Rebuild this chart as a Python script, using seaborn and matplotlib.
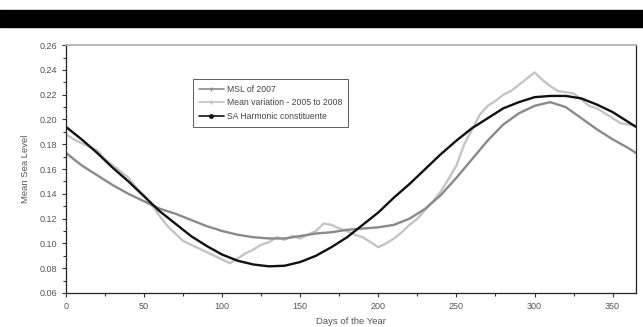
import pandas as pd
import matplotlib
matplotlib.use("Agg")
import matplotlib.pyplot as plt
import seaborn as sns
from matplotlib.lines import Line2D
from matplotlib.patches import Rectangle
from matplotlib.ticker import MultipleLocator

# ------ DATA ------ #
days_smooth = [0, 10, 20, 30, 40, 50, 60, 70, 80, 90, 100, 110, 120, 130, 140,
               150, 160, 170, 180, 190, 200, 210, 220, 230, 240, 250, 260, 270,
               280, 290, 300, 310, 320, 330, 340, 350, 360, 365]

msl_2007 = [0.173, 0.163, 0.155, 0.147, 0.140, 0.134, 0.128, 0.124, 0.119, 0.114,
            0.110, 0.107, 0.105, 0.104, 0.104, 0.106, 0.108, 0.109, 0.111, 0.112,
            0.113, 0.115, 0.120, 0.128, 0.139, 0.153, 0.168, 0.183, 0.196, 0.205,
            0.211, 0.214, 0.210, 0.201, 0.192, 0.184, 0.177, 0.173]

sa_harmonic = [0.194, 0.184, 0.173, 0.161, 0.150, 0.138, 0.126, 0.116, 0.106, 0.098,
               0.091, 0.086, 0.083, 0.0815, 0.082, 0.085, 0.090, 0.097, 0.105, 0.115,
               0.125, 0.137, 0.148, 0.160, 0.172, 0.183, 0.193, 0.201, 0.209, 0.214,
               0.218, 0.219, 0.219, 0.217, 0.212, 0.206, 0.198, 0.194]

days_mean = [0, 5, 10, 15, 20, 25, 30, 35, 40, 45, 50, 55, 60, 65, 70, 75, 80, 85,
             90, 95, 100, 105, 110, 115, 120, 125, 130, 135, 140, 145, 150, 155,
             160, 165, 170, 175, 180, 185, 190, 195, 200, 205, 210, 215, 220, 225,
             230, 235, 240, 245, 250, 255, 260, 265, 270, 275, 280, 285, 290, 295,
             300, 305, 310, 315, 320, 325, 330, 335, 340, 345, 350, 355, 360, 365]

mean_variation = [0.188, 0.184, 0.181, 0.178, 0.175, 0.168, 0.163, 0.158, 0.153, 0.145,
                  0.139, 0.131, 0.122, 0.114, 0.108, 0.102, 0.099, 0.096, 0.093, 0.090,
                  0.087, 0.084, 0.088, 0.092, 0.095, 0.099, 0.101, 0.105, 0.103, 0.106,
                  0.104, 0.107, 0.110, 0.116, 0.115, 0.112, 0.110, 0.107, 0.105, 0.101,
                  0.097, 0.100, 0.104, 0.109, 0.115, 0.120, 0.127, 0.134, 0.142, 0.152,
                  0.163, 0.180, 0.192, 0.204, 0.211, 0.215, 0.220, 0.223, 0.228, 0.233,
                  0.238, 0.232, 0.227, 0.223, 0.222, 0.221, 0.216, 0.211, 0.209, 0.205,
                  0.201, 0.197, 0.196, 0.195]

labels = ["MSL of 2007", "Mean variation - 2005 to 2008", "SA Harmonic constituente"]
colors = ["#8a8a8a", "#c4c4c4", "#111111"]

smooth_df = pd.DataFrame({"day": days_smooth, "msl": msl_2007, "sa": sa_harmonic})
mean_df = pd.DataFrame({"day": days_mean, "mean": mean_variation})

# ------ PLOT ------ #
sns.set_style("ticks")
plt.rcParams["font.family"] = ["Liberation Sans", "DejaVu Sans"]

fig = plt.figure(figsize=(6.43, 3.27), dpi=100)
ax = fig.add_axes([0.1026, 0.104, 0.8866, 0.758])

# black band across the top
fig.patches.append(Rectangle((0, 0.917), 1, 0.053, transform=fig.transFigure,
                             color="black", zorder=0))

sns.lineplot(data=mean_df, x="day", y="mean", ax=ax, color=colors[1], lw=1.7)
sns.lineplot(data=smooth_df, x="day", y="msl", ax=ax, color=colors[0], lw=1.7)
sns.lineplot(data=smooth_df, x="day", y="sa", ax=ax, color=colors[2], lw=1.7)

ax.set_xlim(0, 365)
ax.set_ylim(0.06, 0.26)
ax.xaxis.set_major_locator(MultipleLocator(50))
ax.xaxis.set_minor_locator(MultipleLocator(25))
ax.yaxis.set_major_locator(MultipleLocator(0.02))
ax.yaxis.set_minor_locator(MultipleLocator(0.01))
ax.yaxis.set_major_formatter(matplotlib.ticker.FormatStrFormatter("%.2f"))
ax.tick_params(which="major", length=3, width=0.8, labelsize=6.5, colors="#333333",
               labelcolor="#555555")
ax.tick_params(which="minor", length=2, width=0.8, colors="#333333")

for side in ["left", "bottom", "right"]:
    ax.spines[side].set_color("#222222")
    ax.spines[side].set_linewidth(0.9)
ax.spines["top"].set_color("#aaaaaa")
ax.spines["top"].set_linewidth(1.2)

ax.set_xlabel("Days of the Year", fontsize=6.8, color="#555555", labelpad=4)
ax.set_ylabel("Mean Sea Level", fontsize=6.8, color="#555555", labelpad=7)

handles = [
    Line2D([], [], color=colors[0], lw=1.2, marker="|", markersize=3),
    Line2D([], [], color=colors[1], lw=1.2, marker="+", markersize=3),
    Line2D([], [], color=colors[2], lw=1.2, marker="o", markersize=2.5),
]
leg = ax.legend(handles, labels, loc="upper left", bbox_to_anchor=(0.222, 0.865),
                fontsize=6.2, frameon=True, fancybox=False, handlelength=3.0,
                handletextpad=0.25, labelspacing=0.55, borderpad=0.7,
                borderaxespad=0)
leg.get_frame().set_edgecolor("#333333")
leg.get_frame().set_linewidth(0.7)
for t in leg.get_texts():
    t.set_color("#444444")

fig.savefig("out.png", dpi=100)
